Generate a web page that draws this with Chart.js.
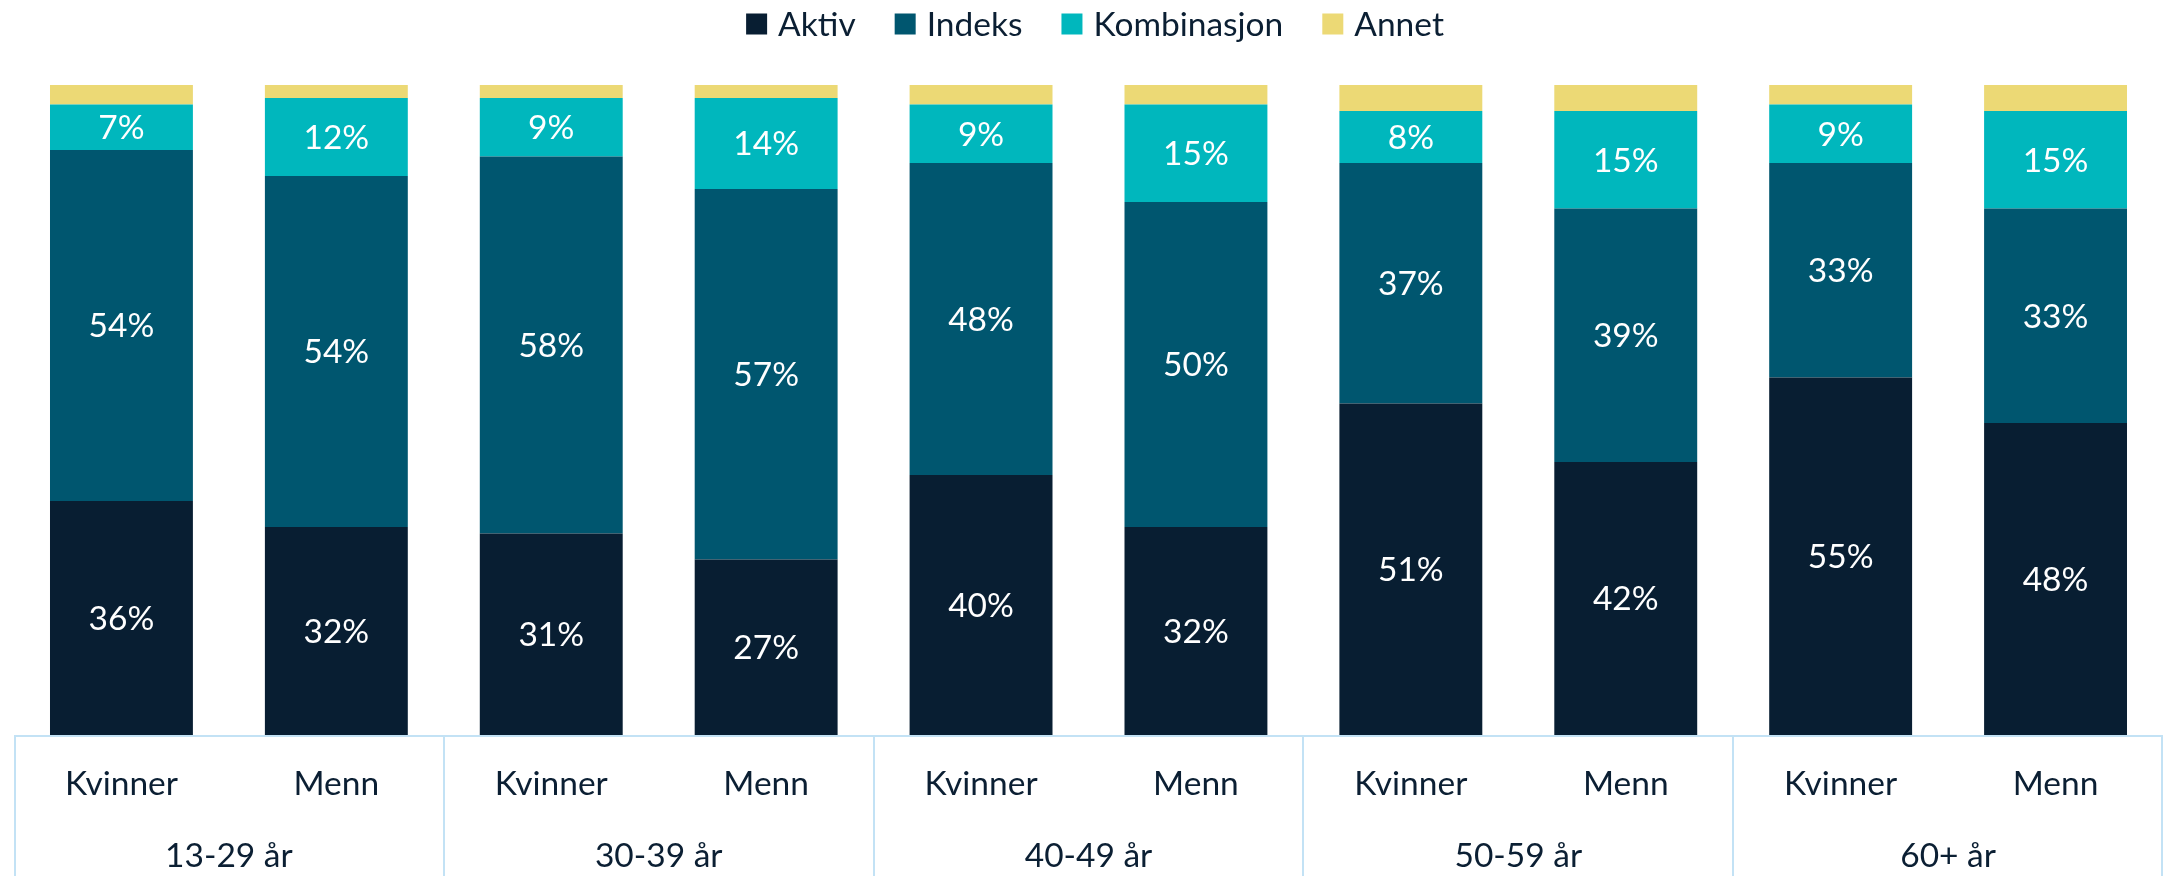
<!DOCTYPE html>
<html>
<head>
<meta charset="utf-8">
<script src="https://cdn.jsdelivr.net/npm/chart.js@4.4.1/dist/chart.umd.min.js"></script>
<style>
  html, body { margin: 0; padding: 0; background: #ffffff; }
  #wrap { width: 2165px; height: 876px; position: relative; }
</style>
</head>
<body>
<div id="wrap"><canvas id="chart" width="2165" height="876"></canvas></div>
<script>
// Age groups and the two bars inside each group
const ageGroups = ['13-29 år', '30-39 år', '40-49 år', '50-59 år', '60+ år'];
const genders = ['Kvinner', 'Menn'];
const barLabels = ageGroups.flatMap(() => genders);

// Share of fund type (percent), one value per bar
const aktiv       = [36, 32, 31, 27, 40, 32, 51, 42, 55, 48];
const indeks      = [54, 54, 58, 57, 48, 50, 37, 39, 33, 33];
const kombinasjon = [ 7, 12,  9, 14,  9, 15,  8, 15,  9, 15];
const annet       = [ 3,  2,  2,  2,  3,  3,  4,  4,  3,  4];

const seriesNames = ['Aktiv', 'Indeks', 'Kombinasjon', 'Annet'];
const seriesColors = ['#081e32', '#00566f', '#00b7bd', '#ecd975'];
const labelledSeries = 3; // value labels on the first three series

const FONT = 'Lato, "Open Sans", sans-serif';
const FONT_SIZE = 33.5;
const TEXT = '#0b1f33';
const RULE = '#c3e2f5';

// Value labels centred in each stacked segment
const segmentLabels = {
  id: 'segmentLabels',
  afterDatasetsDraw(chart) {
    const ctx = chart.ctx;
    ctx.save();
    ctx.font = FONT_SIZE + 'px ' + FONT;
    ctx.fillStyle = '#ffffff';
    ctx.textAlign = 'center';
    ctx.textBaseline = 'middle';
    chart.data.datasets.forEach((ds, di) => {
      if (di >= labelledSeries) return;
      chart.getDatasetMeta(di).data.forEach((el, i) => {
        const p = el.getProps(['x', 'y', 'base'], true);
        ctx.fillText(ds.data[i] + '%', p.x, (p.y + p.base) / 2 + 1);
      });
    });
    ctx.restore();
  }
};

// Legend row at the top
const topLegend = {
  id: 'topLegend',
  afterDraw(chart) {
    const ctx = chart.ctx;
    ctx.save();
    ctx.font = FONT_SIZE + 'px ' + FONT;
    const box = 21, gapText = 11, gapItem = 39;
    const widths = chart.data.datasets.map(d => box + gapText + ctx.measureText(d.label).width);
    const total = widths.reduce((a, b) => a + b, 0) + gapItem * (widths.length - 1);
    let x = 1095 - total / 2;
    const cy = 24;
    chart.data.datasets.forEach((d, i) => {
      ctx.fillStyle = d.backgroundColor;
      ctx.fillRect(x, cy - box / 2, box, box);
      ctx.fillStyle = TEXT;
      ctx.textAlign = 'left';
      ctx.textBaseline = 'middle';
      ctx.fillText(d.label, x + box + gapText, cy + 1);
      x += widths[i] + gapItem;
    });
    ctx.restore();
  }
};

// Table-style frame under the bars with the age group names
const groupTable = {
  id: 'groupTable',
  afterDraw(chart) {
    const ctx = chart.ctx;
    const xs = chart.scales.x;
    const area = chart.chartArea;
    const top = area.bottom + 1;
    const bottom = chart.height;
    const step = xs.getPixelForValue(1) - xs.getPixelForValue(0);
    ctx.save();
    ctx.strokeStyle = RULE;
    ctx.lineWidth = 2;
    ctx.beginPath();
    ctx.moveTo(area.left, top);
    ctx.lineTo(area.right, top);
    for (let g = 0; g <= ageGroups.length; g++) {
      const x = Math.round(xs.getPixelForValue(g * genders.length) - step / 2);
      const xx = g === ageGroups.length ? area.right - 1 : (g === 0 ? area.left + 1 : x);
      ctx.moveTo(xx, top);
      ctx.lineTo(xx, bottom);
    }
    ctx.stroke();
    ctx.font = FONT_SIZE + 'px ' + FONT;
    ctx.fillStyle = TEXT;
    ctx.textAlign = 'center';
    ctx.textBaseline = 'alphabetic';
    ageGroups.forEach((name, g) => {
      const a = xs.getPixelForValue(g * genders.length);
      const b = xs.getPixelForValue(g * genders.length + genders.length - 1);
      ctx.fillText(name, (a + b) / 2, 867);
    });
    ctx.restore();
  }
};

new Chart(document.getElementById('chart'), {
  type: 'bar',
  data: {
    labels: barLabels,
    datasets: [aktiv, indeks, kombinasjon, annet].map((vals, i) => ({
      label: seriesNames[i],
      data: vals,
      backgroundColor: seriesColors[i],
      borderWidth: 0,
      categoryPercentage: 1,
      barPercentage: 0.665
    }))
  },
  options: {
    responsive: false,
    animation: false,
    layout: { padding: { top: 85, left: 14, right: 2, bottom: 0 } },
    plugins: {
      legend: { display: false },
      tooltip: { enabled: false }
    },
    scales: {
      x: {
        stacked: true,
        grid: { display: false, drawTicks: false },
        border: { display: false },
        ticks: {
          color: TEXT,
          font: { family: FONT, size: FONT_SIZE },
          padding: 29,
          maxRotation: 0,
          autoSkip: false
        },
        afterFit(scale) { scale.height = 141; }
      },
      y: {
        stacked: true,
        display: false,
        min: 0,
        max: 100
      }
    }
  },
  plugins: [segmentLabels, topLegend, groupTable]
});
</script>
</body>
</html>
